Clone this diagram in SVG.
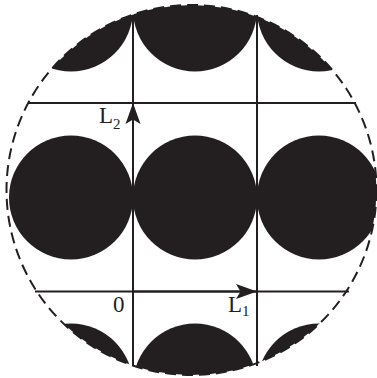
<svg xmlns="http://www.w3.org/2000/svg" width="377" height="378" viewBox="0 0 377 378">
<style>
.ln{stroke:#231f20;stroke-width:2;fill:none}
.dk{fill:#231f20}
.lbl{font-family:"Liberation Serif","Times New Roman",serif;fill:#231f20}
</style>
<defs>
<clipPath id="cc"><circle cx="191.5" cy="190" r="185"/></clipPath>
<marker id="ah" viewBox="0 0 22 16" refX="21" refY="8" markerWidth="22" markerHeight="16" markerUnits="userSpaceOnUse" orient="auto">
<path d="M21,8 L0,0.5 L4.5,8 L0,15.5 Z" fill="#231f20"/>
</marker>
</defs>
<rect width="377" height="378" fill="#fff"/>
<g id="boundary">
<circle cx="191.5" cy="190" r="185" fill="none" stroke="#231f20" stroke-width="2" stroke-dasharray="11 6"/>
</g>
<g id="disks" clip-path="url(#cc)" class="dk">
<circle cx="71" cy="9.5" r="62"/>
<circle cx="195" cy="9.5" r="62"/>
<circle cx="319" cy="9.5" r="62"/>
<circle cx="71" cy="197.5" r="62"/>
<circle cx="195" cy="197.5" r="62"/>
<circle cx="319" cy="197.5" r="62"/>
<circle cx="71" cy="385.5" r="62"/>
<circle cx="195" cy="385.5" r="62"/>
<circle cx="319" cy="385.5" r="62"/>
</g>
<g id="connectors">
<line class="ln" x1="28" y1="103" x2="356" y2="103"/>
<line class="ln" x1="35" y1="291.5" x2="349" y2="291.5"/>
<line class="ln" x1="133" y1="15" x2="133" y2="366"/>
<line class="ln" x1="257" y1="15" x2="257" y2="366"/>
<line class="ln" x1="133" y1="291.5" x2="133" y2="103" marker-end="url(#ah)"/>
<line class="ln" x1="133" y1="291.5" x2="257" y2="291.5" marker-end="url(#ah)"/>
</g>
<g id="label-L2">
<text class="lbl" x="99" y="123" font-size="23">L<tspan font-size="15" dy="6">2</tspan></text>
</g>
<g id="label-0">
<text class="lbl" x="113" y="312" font-size="23">0</text>
</g>
<g id="label-L1">
<text class="lbl" x="228" y="312" font-size="23">L<tspan font-size="15" dy="4">1</tspan></text>
</g>
</svg>
